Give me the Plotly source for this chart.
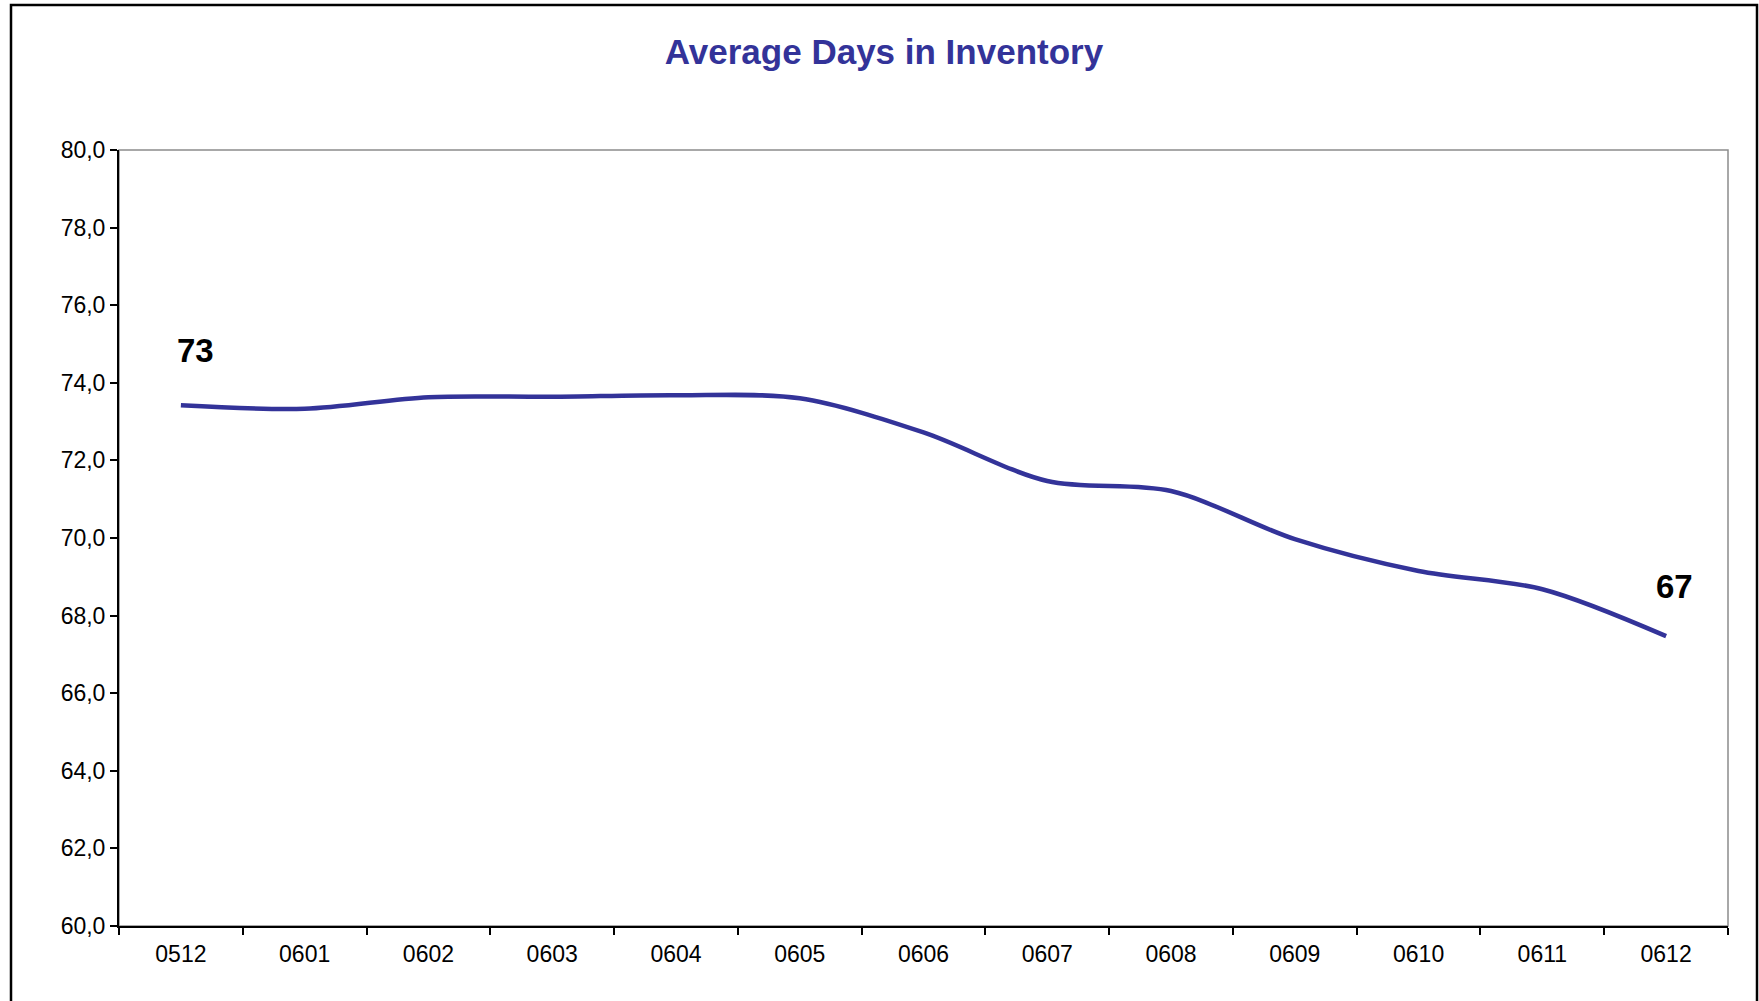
import plotly.graph_objects as go

months = ["0512", "0601", "0602", "0603", "0604", "0605", "0606",
          "0607", "0608", "0609", "0610", "0611", "0612"]
days = [73.42, 73.33, 73.63, 73.64, 73.68, 73.60, 72.72,
        71.47, 71.21, 69.97, 69.15, 68.68, 67.47]

title_text = "Average Days in Inventory"
navy = "#333399"
font_family = "Arial, Liberation Sans, sans-serif"

W, H = 1759, 1001
ml, mr, mt, mb = 119, 31, 150, 75
pw = W - ml - mr
ph = H - mt - mb

fig = go.Figure()
fig.add_trace(go.Scatter(
    x=months, y=days, mode="lines",
    line=dict(color=navy, width=4.5, shape="spline", smoothing=0.9),
    hoverinfo="x+y", showlegend=False,
))

# data labels for first and last points (x given as category index)
annotations = []
for idx, xs, ys in [(0, 15, 55), (len(days) - 1, 8, 50)]:
    annotations.append(dict(
        x=idx, y=days[idx], xref="x", yref="y",
        text=f"<b>{round(days[idx])}</b>", showarrow=False,
        xshift=xs, yshift=ys,
        font=dict(family=font_family, size=33, color="black"),
    ))

shapes = [
    # plot area border (gray top/right)
    dict(type="rect", xref="paper", yref="paper", x0=0, y0=0, x1=1, y1=1,
         line=dict(color="#8c8c8c", width=1.5), layer="below"),
    # outer chart frame
    dict(type="rect", xref="paper", yref="paper",
         x0=(11 - ml) / pw, x1=(1757 - ml) / pw,
         y0=(H - mb - 1010) / ph, y1=(H - mb - 5) / ph,
         line=dict(color="black", width=2.5), layer="above"),
]

fig.update_layout(
    width=W, height=H,
    margin=dict(l=ml, r=mr, t=mt, b=mb),
    paper_bgcolor="white", plot_bgcolor="white",
    separators=", ",
    font=dict(family=font_family, color="black"),
    title=dict(text=f"<b>{title_text}</b>", x=884 / W, xref="container",
               xanchor="center", y=1 - 52 / H, yref="container", yanchor="middle",
               font=dict(family=font_family, size=35, color=navy)),
    annotations=annotations,
    shapes=shapes,
)

fig.update_xaxes(
    type="category", range=[-0.5, len(months) - 0.5],
    showline=True, linecolor="black", linewidth=2,
    ticks="outside", tickson="boundaries", ticklen=7, tickwidth=2, tickcolor="black",
    showgrid=False, zeroline=False,
    tickfont=dict(family=font_family, size=23, color="black"),
    ticklabelstandoff=6,
)
fig.update_yaxes(
    range=[60, 80], dtick=2, tick0=60, tickformat=".1f",
    showline=True, linecolor="black", linewidth=2,
    ticks="outside", ticklen=7, tickwidth=2, tickcolor="black",
    showgrid=False, zeroline=False,
    tickfont=dict(family=font_family, size=23, color="black"),
)

fig.write_html("out.html")
